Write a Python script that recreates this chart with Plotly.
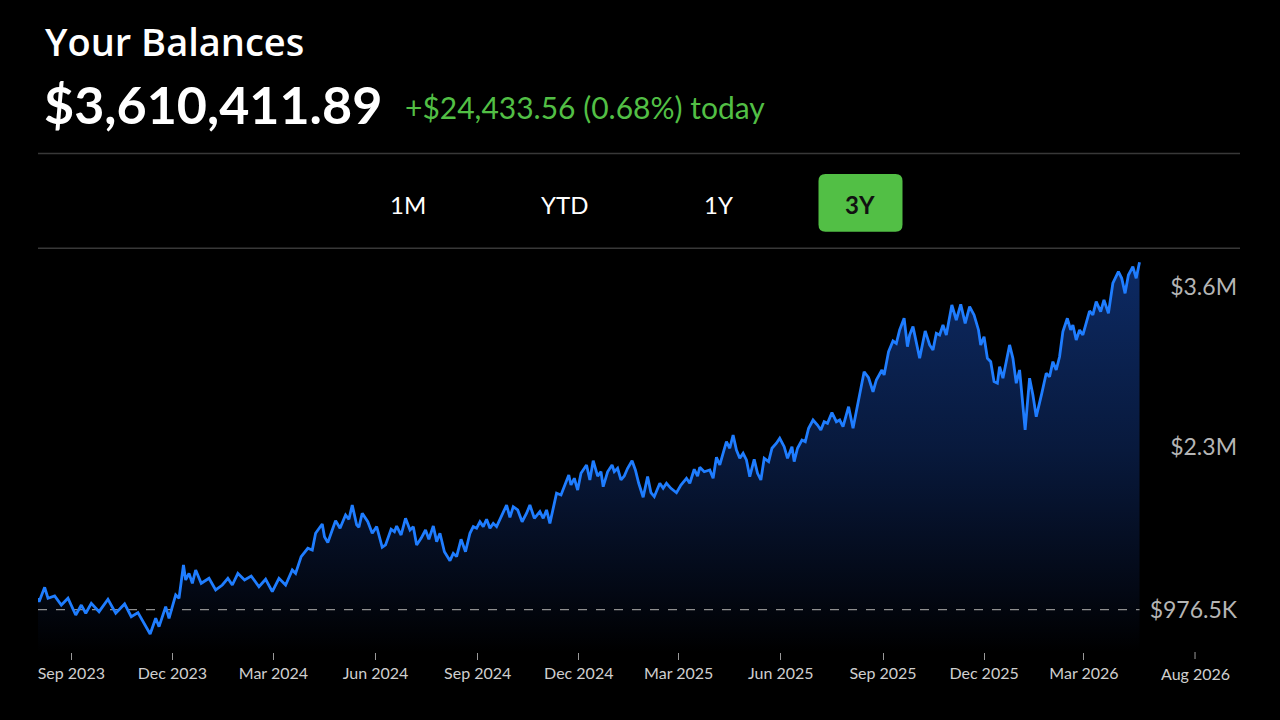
import plotly.graph_objects as go

# balance history (values in $K)
dates = [
    "2023-08-02", "2023-08-03", "2023-08-08", "2023-08-11", "2023-08-17", "2023-08-23", "2023-08-29", "2023-09-05", "2023-09-10", "2023-09-14",
    "2023-09-19", "2023-09-26", "2023-10-04", "2023-10-11", "2023-10-19", "2023-10-25", "2023-10-31", "2023-11-06", "2023-11-11", "2023-11-16",
    "2023-11-19", "2023-11-25", "2023-11-28", "2023-12-04", "2023-12-07", "2023-12-11", "2023-12-13", "2023-12-16", "2023-12-19", "2023-12-22",
    "2023-12-27", "2024-01-03", "2024-01-09", "2024-01-15", "2024-01-20", "2024-01-24", "2024-01-29", "2024-02-04", "2024-02-10", "2024-02-17",
    "2024-02-23", "2024-02-29", "2024-03-06", "2024-03-12", "2024-03-18", "2024-03-21", "2024-03-26", "2024-04-01", "2024-04-05", "2024-04-08",
    "2024-04-14",
    "2024-04-16", "2024-04-19", "2024-04-23", "2024-04-26", "2024-04-30", "2024-05-05", "2024-05-08", "2024-05-11", "2024-05-15", "2024-05-17",
    "2024-05-20", "2024-05-25", "2024-05-29", "2024-06-02", "2024-06-07", "2024-06-10", "2024-06-15", "2024-06-18", "2024-06-20", "2024-06-24",
    "2024-06-28", "2024-07-02", "2024-07-05", "2024-07-08", "2024-07-12", "2024-07-16", "2024-07-19", "2024-07-23", "2024-07-26", "2024-07-29",
    "2024-08-02", "2024-08-07", "2024-08-10", "2024-08-13", "2024-08-17", "2024-08-21", "2024-08-25", "2024-08-28", "2024-08-31", "2024-09-03",
    "2024-09-06", "2024-09-09", "2024-09-12", "2024-09-15", "2024-09-18", "2024-09-22", "2024-09-27", "2024-09-30", "2024-10-03", "2024-10-07",
    "2024-10-11", "2024-10-15", "2024-10-18", "2024-10-22", "2024-10-27", "2024-10-30", "2024-11-02", "2024-11-05", "2024-11-11", "2024-11-15",
    "2024-11-18", "2024-11-22", "2024-11-24", "2024-11-27", "2024-11-30", "2024-12-03", "2024-12-08", "2024-12-11", "2024-12-14", "2024-12-18",
    "2024-12-21", "2024-12-23", "2024-12-27", "2024-12-31", "2025-01-02", "2025-01-05", "2025-01-08", "2025-01-11", "2025-01-14", "2025-01-18",
    "2025-01-21", "2025-01-24", "2025-01-28", "2025-02-01", "2025-02-04", "2025-02-07", "2025-02-12", "2025-02-15", "2025-02-18", "2025-02-22",
    "2025-02-27", "2025-03-03", "2025-03-08", "2025-03-11", "2025-03-15", "2025-03-18", "2025-03-20", "2025-03-24", "2025-03-29", "2025-04-01",
    "2025-04-04", "2025-04-07", "2025-04-13", "2025-04-16", "2025-04-19", "2025-04-22", "2025-04-25", "2025-04-28", "2025-05-01", "2025-05-04",
    "2025-05-08", "2025-05-11", "2025-05-14", "2025-05-17", "2025-05-21", "2025-05-24", "2025-05-28", "2025-05-31", "2025-06-04", "2025-06-07",
    "2025-06-11", "2025-06-13", "2025-06-16", "2025-06-20", "2025-06-23", "2025-06-26", "2025-06-30", "2025-07-04", "2025-07-07", "2025-07-10",
    "2025-07-13", "2025-07-17", "2025-07-21", "2025-07-24", "2025-07-27", "2025-08-01", "2025-08-05", "2025-08-10", "2025-08-15", "2025-08-19",
    "2025-08-23", "2025-08-26", "2025-08-31", "2025-09-02", "2025-09-06", "2025-09-10", "2025-09-13", "2025-09-16", "2025-09-20", "2025-09-23",
    "2025-09-25", "2025-09-28", "2025-10-01", "2025-10-04", "2025-10-09", "2025-10-13", "2025-10-16", "2025-10-19", "2025-10-22", "2025-10-25",
    "2025-10-28", "2025-11-02", "2025-11-06", "2025-11-10", "2025-11-14", "2025-11-18", "2025-11-22", "2025-11-26", "2025-11-28", "2025-12-01",
    "2025-12-04", "2025-12-07", "2025-12-10", "2025-12-13", "2025-12-15", "2025-12-18", "2025-12-24", "2025-12-27", "2025-12-30", "2026-01-02",
    "2026-01-07", "2026-01-11", "2026-01-14", "2026-01-17", "2026-01-22", "2026-01-26", "2026-01-29", "2026-02-01", "2026-02-04", "2026-02-07",
    "2026-02-10", "2026-02-14", "2026-02-17", "2026-02-19", "2026-02-22", "2026-02-25", "2026-02-28", "2026-03-04", "2026-03-06", "2026-03-09",
    "2026-03-12", "2026-03-16", "2026-03-19", "2026-03-23", "2026-03-27", "2026-04-01", "2026-04-04", "2026-04-07", "2026-04-10", "2026-04-14",
    "2026-04-17", "2026-04-20",
]
balance_k = [
    1071, 1041, 1158, 1069, 1088, 1014, 1069, 933, 1014, 947,
    1028, 960, 1061, 947, 1023, 919, 952, 852, 778, 906,
    838, 1001, 906, 1096, 1069, 1340, 1218, 1272, 1191, 1299,
    1191, 1232, 1137, 1177, 1232, 1177, 1272, 1218, 1250, 1163,
    1224, 1123, 1232, 1177, 1299, 1272, 1408, 1476, 1462, 1598,
    1674,
    1570, 1522, 1625, 1701, 1639, 1747, 1712, 1828, 1666, 1647,
    1761, 1692, 1598, 1652, 1484, 1503, 1631, 1611, 1657, 1584,
    1720, 1625, 1652, 1503, 1557, 1625, 1549, 1657, 1530, 1598,
    1448, 1375, 1435, 1408, 1549, 1448, 1598, 1652, 1639, 1692,
    1652, 1712, 1639, 1679, 1652, 1728, 1828, 1728, 1814, 1788,
    1692, 1761, 1828, 1720, 1774, 1720, 1788, 1679, 1924, 1910,
    1977, 2073, 1991, 2046, 1950, 2086, 2154, 2032, 2189, 2064,
    2099, 1977, 2099, 2154, 2099, 2127, 2032, 2064, 2127, 2189,
    2113, 2005, 1891, 2059, 1928, 1896, 2005, 1964, 2005, 1964,
    1928, 1991, 2046, 2005, 2119, 2064, 2135, 2099, 2113, 2046,
    2217, 2154, 2344, 2290, 2398, 2276, 2208, 2249, 2195, 2059,
    2200, 2086, 2032, 2208, 2181, 2290, 2331, 2371, 2303, 2208,
    2303, 2181, 2290, 2357, 2344, 2453, 2520, 2479, 2439, 2506,
    2493, 2580, 2506, 2520, 2466, 2628, 2453, 2697, 2913, 2864,
    2750, 2846, 2927, 2886, 3076, 3163, 3144, 3253, 3348, 3117,
    3212, 3280, 3157, 3022, 3245, 3131, 3090, 3226, 3212, 3293,
    3212, 3456, 3334, 3462, 3307, 3442, 3375, 3253, 3131, 3198,
    3022, 2995, 2832, 2819, 2954, 2860, 3131, 3022, 2819, 2927,
    2439, 2860, 2724, 2547, 2737, 2900, 2873, 2995, 2927, 3035,
    3239, 3348, 3253, 3293, 3171, 3253, 3212, 3348, 3407, 3375,
    3483, 3402, 3497, 3389, 3633, 3727, 3673, 3551, 3700, 3768,
    3673, 3804,
]
balance = [v * 1000 for v in balance_k]

baseline = 976500
ytick_vals = [976500, 2300000, 3600000]
ytick_text = ["$976.5K", "$2.3M", "$3.6M"]
xtick_vals = ["2023-09-01", "2023-12-01", "2024-03-01", "2024-06-01", "2024-09-01", "2024-12-01",
              "2025-03-01", "2025-06-01", "2025-09-01", "2025-12-01", "2026-03-01"]
xtick_text = ["Sep 2023", "Dec 2023", "Mar 2024", "Jun 2024", "Sep 2024", "Dec 2024",
              "Mar 2025", "Jun 2025", "Sep 2025", "Dec 2025", "Mar 2026"]
# last label sits past the data (plotly drops it next to the inside y labels, so it is added by hand)
end_tick_val = "2026-06-09"
end_tick_text = "Aug 2026"

total_text = "$3,610,411.89"
change_text = "+$24,433.56 (0.68%) today"
ranges = ["1M", "YTD", "1Y", "3Y"]
active_range = "3Y"

FONT = "Lato"
GREEN = "#52bf45"
BLUE = "#1f7dff"
TICK_GRAY = "#9a9a9a"
XLABEL = "#cfcfcf"
Y_RANGE = [631800, 3903700]

# plot area in screen pixels
L, R, T, B = 38, 1240, 250, 652


def px(x):
    return (x - L) / (R - L)


def py(y):
    return (B - y) / (B - T)


def rounded_rect(x0, y0, x1, y1, r):
    X0, X1, Yt, Yb = px(x0), px(x1), py(y0), py(y1)
    rx, ry = r / (R - L), r / (B - T)
    return (f"M{X0 + rx},{Yt} L{X1 - rx},{Yt} Q{X1},{Yt} {X1},{Yt - ry} "
            f"L{X1},{Yb + ry} Q{X1},{Yb} {X1 - rx},{Yb} L{X0 + rx},{Yb} "
            f"Q{X0},{Yb} {X0},{Yb + ry} L{X0},{Yt - ry} Q{X0},{Yt} {X0 + rx},{Yt} Z")


fig = go.Figure()

# gradient area under the curve
fig.add_trace(go.Scatter(
    x=dates, y=balance, mode="lines", line=dict(width=0),
    fill="tozeroy",
    fillgradient=dict(
        type="vertical", start=Y_RANGE[0], stop=Y_RANGE[1],
        colorscale=[[0, "rgb(0,0,0)"], [0.15, "rgb(3,8,20)"],
                    [0.5, "rgb(8,25,60)"], [1, "rgb(13,43,102)"]],
    ),
    hoverinfo="skip", showlegend=False,
))

# starting balance reference line
fig.add_trace(go.Scatter(
    x=[dates[0], dates[-1]], y=[baseline, baseline], mode="lines",
    line=dict(color="#8f8f8f", width=1.2, dash="dash"),
    hoverinfo="skip", showlegend=False,
))

fig.add_trace(go.Scatter(
    x=dates, y=balance, mode="lines",
    line=dict(color=BLUE, width=2.8),
    hoverinfo="skip", showlegend=False,
))

annotations = [
    dict(x=px(43), y=py(41), text="Your Balances",
         font=dict(family="Open Sans", size=38, color="white", weight=600)),
    dict(x=px(42), y=py(104), text=total_text,
         font=dict(family=FONT, size=52, color="white", weight=700)),
    dict(x=px(403), y=py(107), text=change_text,
         font=dict(family=FONT, size=30, color=GREEN)),
]
for a in annotations:
    a.update(xref="paper", yref="paper", xanchor="left", yanchor="middle", showarrow=False)

button_x = [408, 564, 718, 860]
for label, bx in zip(ranges, button_x):
    on = label == active_range
    annotations.append(dict(
        x=px(bx), y=py(204), xref="paper", yref="paper", text=label, showarrow=False,
        xanchor="center", yanchor="middle",
        font=dict(family=FONT, size=24, color="#111111" if on else "white",
                  weight=700 if on else 400),
    ))

annotations.append(dict(
    x=end_tick_val, y=py(673), xref="x", yref="paper", text=end_tick_text, showarrow=False,
    xanchor="center", yanchor="middle",
    font=dict(family=FONT, size=16, color=XLABEL),
))

shapes = [
    dict(type="line", xref="paper", yref="paper", x0=0, x1=1, y0=py(153.5), y1=py(153.5),
         line=dict(color="#383838", width=1.5)),
    dict(type="line", xref="paper", yref="paper", x0=0, x1=1, y0=py(248.3), y1=py(248.3),
         line=dict(color="#383838", width=1.5)),
    dict(type="path", xref="paper", yref="paper", path=rounded_rect(818.5, 174, 902.5, 231.7, 7),
         fillcolor=GREEN, line=dict(width=0), layer="below"),
    dict(type="line", xref="x", yref="paper", x0=end_tick_val, x1=end_tick_val,
         y0=0, y1=py(B + 7), line=dict(color=TICK_GRAY, width=1)),
]

fig.update_layout(
    width=1280, height=720, autosize=False,
    margin=dict(l=L, r=1280 - R, t=T, b=720 - B),
    paper_bgcolor="black", plot_bgcolor="black",
    showlegend=False, hovermode=False,
    annotations=annotations, shapes=shapes,
    xaxis=dict(
        type="date", range=["2023-08-02", "2026-07-19 12:00"],
        showgrid=False, zeroline=False, showline=False,
        ticks="outside", ticklen=7, tickwidth=1, tickcolor=TICK_GRAY,
        tickvals=xtick_vals, ticktext=xtick_text,
        tickfont=dict(family=FONT, size=16, color=XLABEL),
        fixedrange=True,
    ),
    yaxis=dict(
        side="right", range=Y_RANGE,
        showgrid=False, zeroline=False, showline=False,
        tickvals=ytick_vals, ticktext=ytick_text, ticklabelposition="inside",
        tickfont=dict(family=FONT, size=23, color="#b5b5b5"),
        fixedrange=True,
    ),
)

# no white page margin around the dark figure
fig.write_html(
    "out.html",
    config={"displayModeBar": False},
    post_script="document.body.style.margin='0';document.body.style.background='black';",
)
